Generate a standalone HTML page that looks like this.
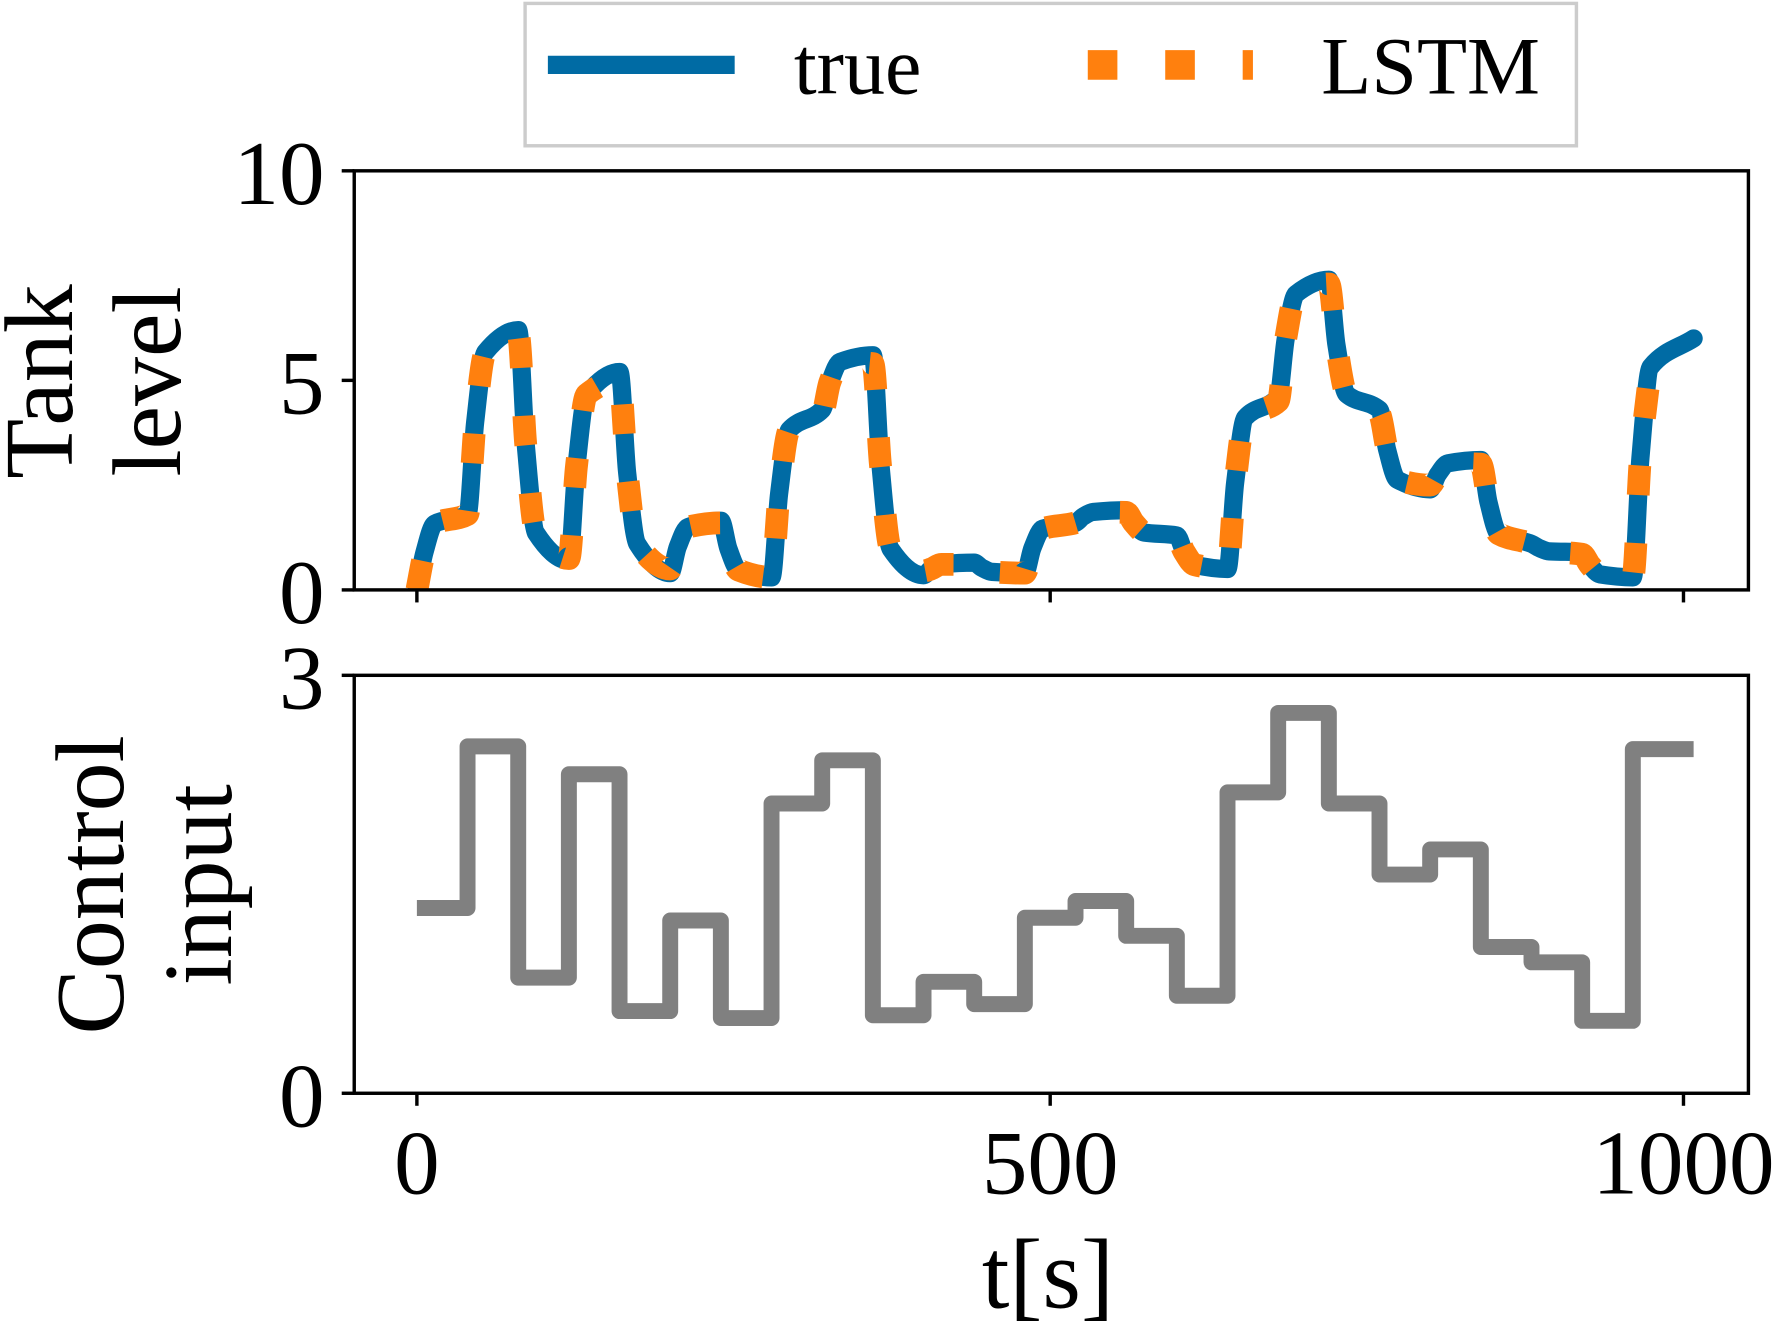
<!DOCTYPE html>
<html><head><meta charset="utf-8"><style>
html,body{margin:0;padding:0;background:#fff;}
svg{display:block;font-family:"Liberation Serif",serif;}
</style></head><body>
<svg id="chart" width="1786" height="1329" viewBox="0 0 1568 1167" preserveAspectRatio="none" xmlns="http://www.w3.org/2000/svg">
<rect width="1568" height="1167" fill="#fff"/>
<g>
<rect x="461" y="3" width="923" height="125" fill="#fff" stroke="#ccc" stroke-width="3"/>
<line x1="481" y1="57" x2="645" y2="57" stroke="#006BA4" stroke-width="16"/>
<text x="697" y="82" font-size="72">true</text>
<line x1="955" y1="57" x2="1100" y2="57" stroke="#FF800E" stroke-width="26" stroke-dasharray="26 42"/>
<text x="1160" y="82" font-size="72">LSTM</text>
</g>
<g id="topPanel"></g>
<g id="botPanel"></g>
<text transform="translate(63,335) rotate(-90)" text-anchor="middle" font-size="86">Tank</text>
<text transform="translate(158,335) rotate(-90)" text-anchor="middle" font-size="86">level</text>
<text transform="translate(108,777) rotate(-90)" text-anchor="middle" font-size="86">Control</text>
<text transform="translate(203,777) rotate(-90)" text-anchor="middle" font-size="86">input</text>
<text x="920" y="1148" text-anchor="middle" font-size="87">t[s]</text>
</svg>
<script>
const xTicks = [0, 500, 1000];
const topYTicks = [0, 5, 10];
const botYTicks = [0, 3];
const tankTime = [0,6,14,40,46,54,80,86,94,120,126,134,160,166,174,200,206,214,240,246,254,280,286,294,320,326,334,360,366,374,400,406,414,440,446,454,480,486,494,520,526,534,560,566,574,600,606,614,640,646,654,680,686,694,720,726,734,760,766,774,800,806,814,840,846,854,880,886,894,920,926,934,960,966,974,1008];
const tankLevel = [0,0.9,1.58,1.8,4.0,5.67,6.2,3.45,1.36,0.7,2.95,4.66,5.2,2.8,1.1,0.4,1.03,1.5,1.65,0.98,0.47,0.3,2.3,3.82,4.3,4.95,5.44,5.6,2.98,0.98,0.35,0.5,0.61,0.65,0.53,0.43,0.4,1.0,1.46,1.6,1.75,1.86,1.9,1.6,1.37,1.3,0.9,0.6,0.5,2.55,4.11,4.6,6.0,7.06,7.4,5.85,4.67,4.3,3.35,2.63,2.4,2.75,3.02,3.1,2.1,1.34,1.1,1.0,0.92,0.9,0.6,0.37,0.3,3.15,5.32,6.0];
const lstmLevel = [0,0.9,1.58,1.8,4.0,5.67,6.1,3.45,1.36,0.75,2.95,4.66,5.0,2.8,1.1,0.5,1.03,1.5,1.6,0.98,0.47,0.3,2.3,3.82,4.2,4.95,5.44,5.4,2.98,0.98,0.45,0.5,0.61,0.6,0.53,0.43,0.4,1.0,1.46,1.6,1.75,1.86,1.85,1.6,1.37,1.25,0.9,0.6,0.5,2.55,4.11,4.5,6.0,7.06,7.3,5.85,4.67,4.2,3.35,2.63,2.5,2.75,3.02,3.0,2.1,1.34,1.1,1.0,0.92,0.85,0.6,0.37,0.3,3.15,5.32];
const lstmTime = tankTime.slice(0, 75);
const stepStart = [0,40,80,120,160,200,240,280,320,360,400,440,480,520,560,600,640,680,720,760,800,840,880,920,960];
const stepEnd = 1008;
const controlValue = [1.33,2.49,0.83,2.29,0.59,1.24,0.54,2.08,2.39,0.56,0.80,0.64,1.26,1.38,1.13,0.70,2.16,2.73,2.08,1.57,1.75,1.05,0.94,0.52,2.47];

const NS = "http://www.w3.org/2000/svg";
const X0 = 311, X1 = 1535;
const xs = t => 366 + t * (1478 - 366) / 1000;
const topY = v => 518 - v * (518 - 150) / 10;
const botY = v => 960 - v * (960 - 593) / 3;
function mk(tag, attrs, parent) {
  const e = document.createElementNS(NS, tag);
  for (const k in attrs) e.setAttribute(k, attrs[k]);
  parent.appendChild(e);
  return e;
}
function monotonePath(tx, ty) {
  const n = tx.length, px = tx.map(xs), py = ty.map(topY);
  const d = [], m = [];
  for (let i = 0; i < n - 1; i++) d.push((py[i+1]-py[i])/(px[i+1]-px[i]));
  m[0] = d[0]; m[n-1] = d[n-2];
  for (let i = 1; i < n - 1; i++) m[i] = (d[i-1]*d[i] <= 0) ? 0 : (2/(1/d[i-1]+1/d[i]));
  let s = "M" + px[0] + "," + py[0];
  for (let i = 0; i < n - 1; i++) {
    const h = (px[i+1]-px[i]) / 3;
    s += " C" + (px[i]+h) + "," + (py[i]+m[i]*h) + " " + (px[i+1]-h) + "," + (py[i+1]-m[i+1]*h) + " " + px[i+1] + "," + py[i+1];
  }
  return s;
}
const topG = document.getElementById('topPanel');
const botG = document.getElementById('botPanel');
const defs = mk('defs', {}, document.getElementById('chart'));
const cp = mk('clipPath', {id: 'clipTop'}, defs);
mk('rect', {x: X0, y: 150, width: X1 - X0, height: 368}, cp);

const trueLine = mk('path', {d: monotonePath(tankTime, tankLevel), fill: 'none', stroke: '#006BA4', 'stroke-width': 16, 'stroke-linejoin': 'round', 'stroke-linecap': 'round', 'clip-path': 'url(#clipTop)'}, topG);


const lstmLine = mk('path', {d: monotonePath(lstmTime, lstmLevel), fill: 'none', stroke: '#FF800E', 'stroke-width': 20, 'stroke-dasharray': '26 42', 'clip-path': 'url(#clipTop)'}, topG);



let sp = "";
for (let i = 0; i < stepStart.length; i++) {
  const x0 = xs(stepStart[i]), x1 = xs(i + 1 < stepStart.length ? stepStart[i+1] : stepEnd), y = botY(controlValue[i]);
  sp += (i === 0 ? "M" : " L") + x0 + "," + y + " L" + x1 + "," + y;
}
const ctrl = mk('path', {d: sp, fill: 'none', stroke: '#808080', 'stroke-width': 14, 'stroke-linejoin': 'round'}, botG);



function frame(g, y0, y1, yT, yTicks, showX) {
  const r = mk('rect', {x: X0, y: y0, width: X1 - X0, height: y1 - y0, fill: 'none', stroke: '#000', 'stroke-width': 3}, g);
  
  
  for (const t of xTicks) {
    const tk = mk('line', {x1: xs(t), x2: xs(t), y1: y1, y2: y1 + 11, stroke: '#000', 'stroke-width': 3}, g);
    
    
    if (showX) {
      const tl = mk('text', {x: xs(t), y: y1 + 88, 'text-anchor': 'middle', 'font-size': 80}, g);
      tl.textContent = t;
      
      
    }
  }
  for (const v of yTicks) {
    const tk = mk('line', {x1: X0 - 11, x2: X0, y1: yT(v), y2: yT(v), stroke: '#000', 'stroke-width': 3}, g);
    
    
    const tl = mk('text', {x: 285, y: yT(v) + 29, 'text-anchor': 'end', 'font-size': 80}, g);
    tl.textContent = v;
    
    
  }
}
frame(topG, 150, 518, topY, topYTicks, false);
frame(botG, 593, 960, botY, botYTicks, true);
</script>
</body></html>
